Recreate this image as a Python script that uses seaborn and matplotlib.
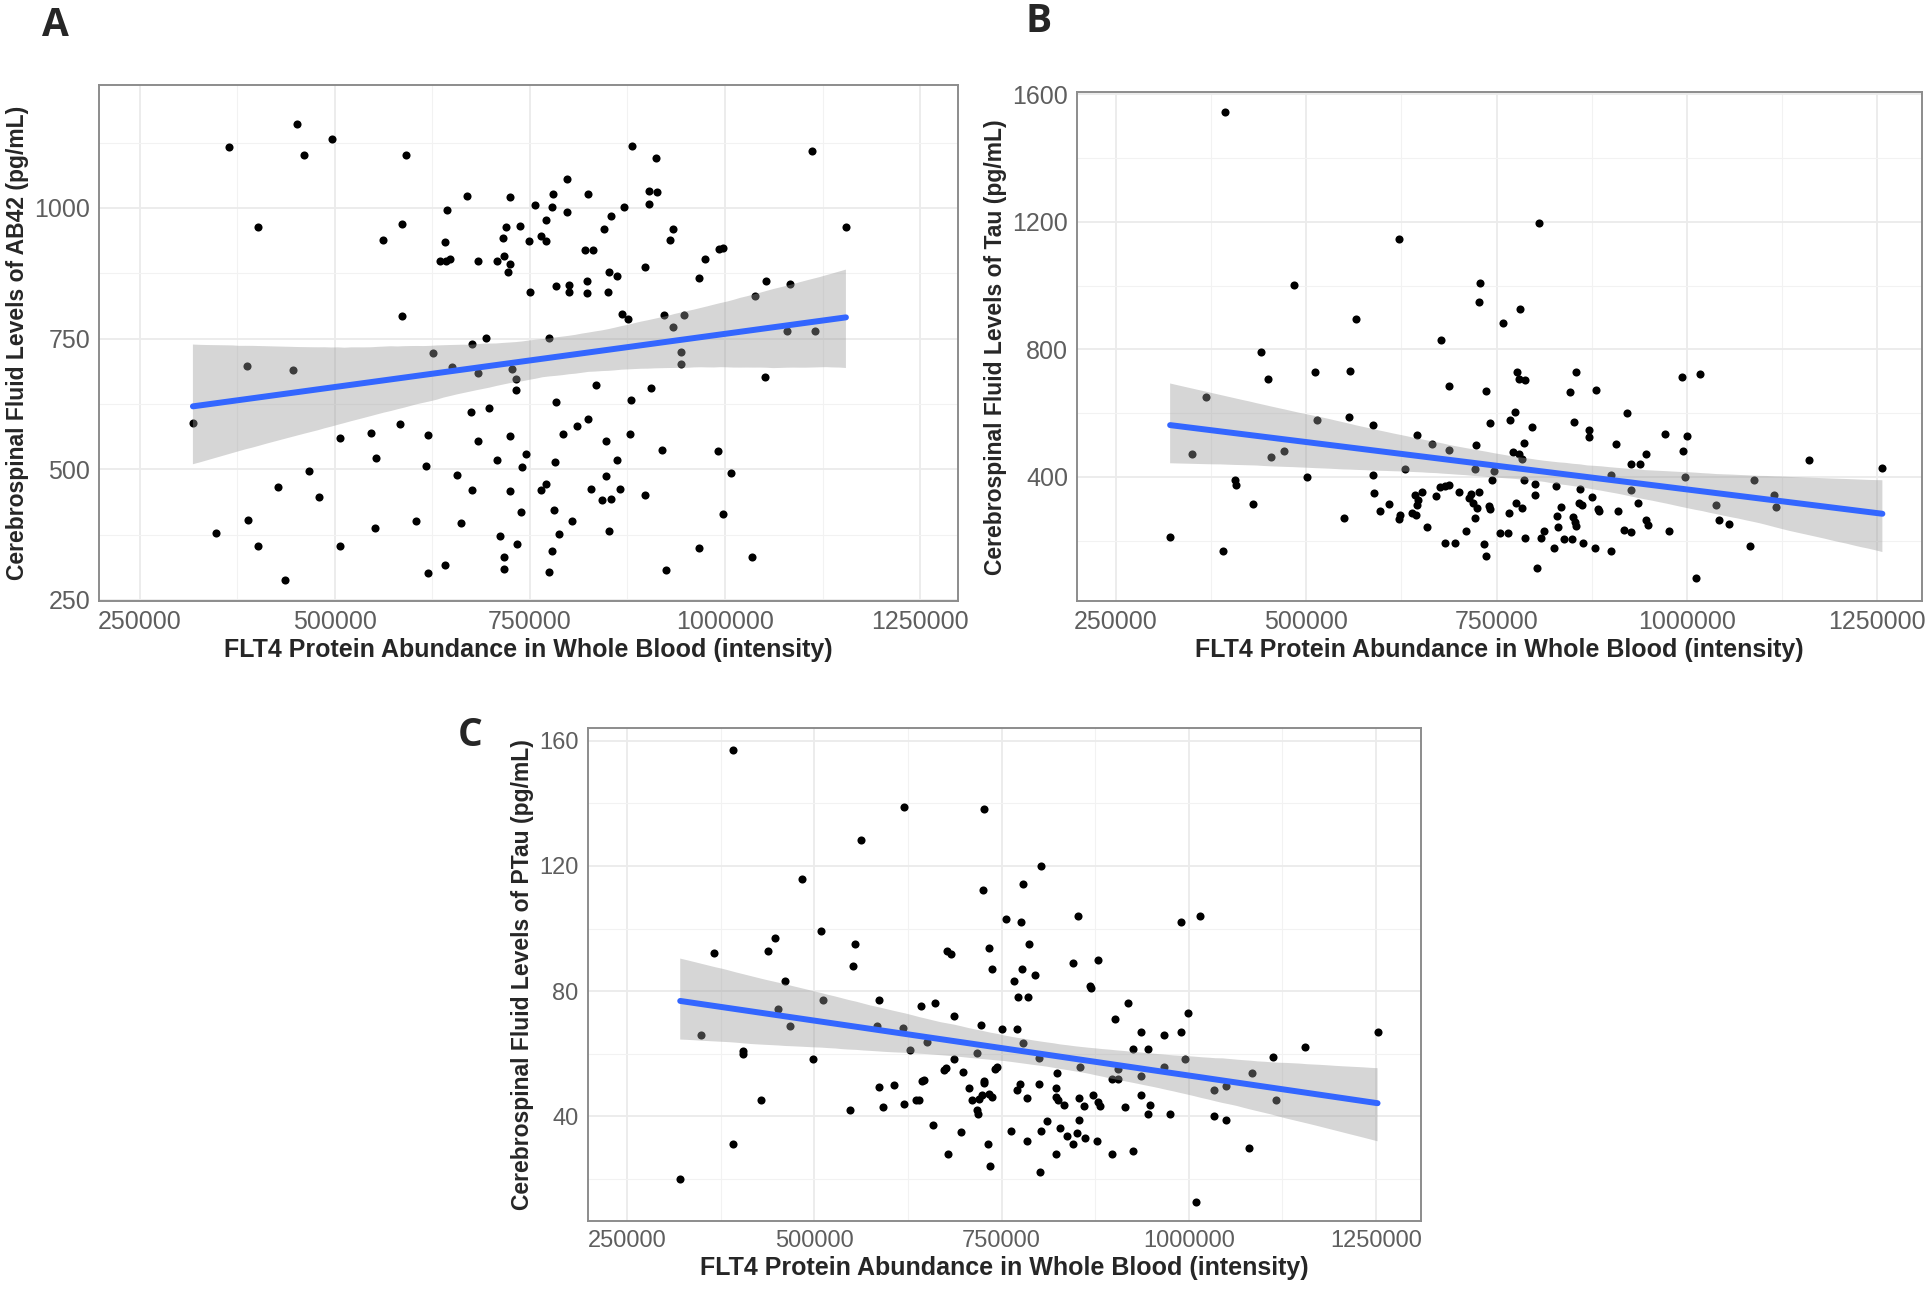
import matplotlib
matplotlib.use("Agg")
import matplotlib.pyplot as plt
import seaborn as sns
from matplotlib.collections import PolyCollection
from matplotlib.ticker import FixedLocator

sns.set_style("white")
plt.rcParams["font.family"] = ["Liberation Sans", "DejaVu Sans"]

# ---------------------------------------------------------------
# Data (FLT4 intensity vs CSF biomarker levels)
# ---------------------------------------------------------------
ab42_x = [452000, 364000, 496000, 460000, 591000, 881000, 911000, 1111000, 402000, 797000,
          669000, 725000, 780000, 825000, 903000, 913000, 644000, 756000, 778000, 798000,
          871000, 903000, 854000, 586000, 719000, 737000, 771000, 845000, 933000, 1155000,
          561000, 641000, 716000, 764000, 749000, 771000, 930000, 635000, 642000, 648000,
          684000, 708000, 717000, 725000, 722000, 821000, 831000, 897000, 974000, 992000,
          997000, 750000, 783000, 800000, 800000, 823000, 823000, 850000, 851000, 861000,
          967000, 1052000, 1083000, 1038000, 586000, 868000, 876000, 922000, 947000, 933000,
          694000, 775000, 676000, 387000, 446000, 626000, 1079000, 1115000, 943000, 944000,
          650000, 683000, 727000, 732000, 732000, 835000, 905000, 1051000, 784000, 880000,
          698000, 675000, 318000, 584000, 824000, 810000, 792000, 878000, 546000, 619000,
          507000, 684000, 725000, 847000, 553000, 708000, 745000, 782000, 740000, 861000,
          919000, 991000, 617000, 467000, 656000, 1008000, 848000, 427000, 480000, 676000,
          724000, 764000, 771000, 828000, 866000, 897000, 842000, 854000, 739000, 781000,
          389000, 604000, 662000, 804000, 998000, 348000, 551000, 787000, 851000, 402000,
          507000, 711000, 733000, 967000, 778000, 717000, 1034000, 641000, 717000, 619000,
          775000, 925000, 436000]
ab42_y = [1161, 1117, 1132, 1102, 1102, 1118, 1095, 1108, 964, 1055,
          1022, 1020, 1027, 1027, 1033, 1031, 996, 1005, 1002, 993,
          1002, 1007, 985, 970, 964, 966, 977, 960, 960, 964,
          938, 934, 942, 946, 936, 936, 938, 898, 898, 903,
          899, 898, 907, 893, 877, 919, 920, 887, 903, 922,
          923, 840, 851, 852, 839, 837, 861, 840, 877, 870,
          866, 861, 854, 831, 794, 797, 787, 795, 795, 773,
          752, 751, 739, 698, 690, 722, 765, 765, 725, 701,
          696, 684, 692, 673, 652, 662, 656, 677, 628, 633,
          617, 610, 588, 587, 596, 582, 567, 567, 569, 565,
          559, 554, 564, 555, 521, 518, 529, 514, 504, 518,
          537, 535, 507, 497, 490, 492, 488, 466, 447, 460,
          458, 460, 471, 462, 462, 451, 442, 443, 419, 422,
          403, 402, 398, 402, 415, 379, 388, 377, 382, 353,
          353, 372, 357, 349, 344, 332, 332, 316, 309, 302,
          303, 307, 289]

tau_x = [393000, 806000, 622000, 484000, 728000, 727000, 781000, 565000, 759000, 677000,
         440000, 512000, 557000, 449000, 777000, 779000, 787000, 855000, 994000, 1017000,
         687000, 736000, 881000, 846000, 368000, 774000, 921000, 768000, 741000, 514000,
         556000, 588000, 796000, 852000, 872000, 871000, 971000, 1000000, 645000, 665000,
         723000, 786000, 907000, 995000, 350000, 471000, 454000, 772000, 779000, 783000,
         946000, 927000, 938000, 1160000, 1257000, 687000, 721000, 630000, 747000, 501000,
         588000, 744000, 786000, 901000, 998000, 1088000, 406000, 408000, 682000, 688000,
         675000, 800000, 828000, 801000, 589000, 652000, 727000, 701000, 860000, 875000,
         1115000, 1117000, 430000, 608000, 643000, 647000, 645000, 716000, 714000, 719000,
         724000, 740000, 776000, 858000, 862000, 883000, 909000, 936000, 1038000, 926000,
         835000, 784000, 670000, 742000, 597000, 623000, 639000, 644000, 722000, 766000,
         829000, 884000, 550000, 622000, 850000, 853000, 947000, 949000, 1042000, 1056000,
         659000, 710000, 754000, 765000, 812000, 831000, 854000, 917000, 927000, 977000,
         321000, 682000, 696000, 734000, 787000, 809000, 826000, 838000, 849000, 864000,
         879000, 901000, 1083000, 390000, 736000, 803000, 1012000]
tau_y = [1544, 1196, 1147, 1003, 1007, 948, 926, 895, 882, 829,
         792, 729, 731, 707, 730, 708, 703, 729, 712, 722,
         684, 670, 673, 666, 652, 605, 601, 579, 570, 578,
         589, 562, 557, 571, 548, 525, 534, 527, 533, 504,
         500, 508, 504, 482, 473, 482, 462, 477, 472, 455,
         472, 441, 440, 452, 427, 484, 425, 425, 418, 400,
         405, 390, 392, 407, 399, 392, 389, 374, 372, 374,
         370, 377, 371, 345, 349, 352, 353, 353, 363, 337,
         342, 307, 315, 315, 345, 329, 312, 347, 333, 318,
         303, 309, 319, 318, 312, 301, 294, 319, 312, 359,
         305, 304, 341, 301, 294, 282, 286, 281, 270, 288,
         278, 293, 270, 268, 274, 258, 266, 249, 264, 253,
         244, 232, 225, 225, 230, 242, 247, 233, 226, 230,
         211, 192, 194, 189, 208, 208, 178, 205, 205, 192,
         178, 167, 184, 167, 153, 115, 84]

ptau_x = [392000, 620000, 726000, 562000, 803000, 483000, 778000, 725000, 852000, 1015000,
          756000, 776000, 990000, 509000, 447000, 554000, 733000, 787000, 366000, 438000,
          677000, 682000, 845000, 879000, 552000, 737000, 777000, 794000, 461000, 767000,
          868000, 869000, 772000, 785000, 511000, 586000, 661000, 643000, 452000, 999000,
          919000, 686000, 902000, 468000, 584000, 619000, 722000, 751000, 771000, 936000,
          990000, 967000, 1252000, 349000, 779000, 1155000, 925000, 945000, 405000, 405000,
          628000, 651000, 717000, 800000, 1112000, 498000, 995000, 687000, 855000, 906000,
          744000, 741000, 967000, 1085000, 676000, 699000, 673000, 824000, 936000, 898000,
          905000, 647000, 644000, 726000, 586000, 606000, 727000, 707000, 774000, 800000,
          823000, 1034000, 1049000, 724000, 733000, 737000, 771000, 823000, 872000, 879000,
          936000, 915000, 948000, 429000, 592000, 620000, 636000, 640000, 711000, 720000,
          826000, 833000, 881000, 1116000, 547000, 717000, 719000, 784000, 853000, 860000,
          946000, 975000, 811000, 853000, 1034000, 1049000, 658000, 762000, 802000, 696000,
          828000, 851000, 838000, 846000, 862000, 877000, 784000, 732000, 392000, 1081000,
          679000, 897000, 823000, 925000, 734000, 801000, 321000, 1009000]
ptau_y = [157.0, 139.0, 138.2, 128.2, 120.1, 115.8, 114.1, 112.2, 103.9, 103.9,
          103.2, 102.2, 102.2, 99.2, 97.0, 95.1, 93.9, 95.0, 92.1, 93.0,
          92.7, 91.9, 89.1, 90.1, 88.2, 87.2, 87.1, 85.1, 83.1, 83.1,
          81.7, 80.9, 78.0, 78.0, 77.3, 77.3, 76.3, 75.2, 74.2, 73.1,
          76.3, 72.1, 71.2, 69.0, 68.8, 68.3, 69.1, 67.9, 67.9, 66.9,
          66.9, 66.0, 66.9, 66.0, 63.3, 62.3, 61.5, 61.5, 61.0, 60.0,
          61.2, 63.9, 60.3, 58.8, 59.0, 58.2, 58.2, 58.2, 55.9, 55.2,
          55.9, 55.0, 55.9, 53.9, 55.4, 54.2, 54.8, 53.9, 53.0, 52.0,
          52.0, 51.7, 51.3, 51.3, 49.3, 49.9, 50.6, 49.1, 50.3, 50.3,
          49.1, 48.4, 49.8, 46.9, 47.2, 46.3, 48.4, 46.3, 46.9, 44.7,
          46.9, 42.9, 43.5, 45.1, 43.0, 44.0, 45.1, 45.1, 45.3, 45.7,
          45.1, 43.5, 43.3, 45.1, 42.1, 42.1, 40.9, 45.8, 45.9, 43.3,
          40.9, 40.9, 38.4, 39.0, 40.0, 38.9, 37.2, 35.4, 35.2, 35.0,
          36.2, 34.8, 33.6, 31.1, 33.0, 32.1, 32.0, 31.1, 31.1, 29.9,
          28.1, 28.0, 28.1, 28.9, 24.1, 22.2, 20.0, 12.7]

x_ticks = [250000, 500000, 750000, 1000000, 1250000]
ab42_ticks = [250, 500, 750, 1000]
tau_ticks = [400, 800, 1200, 1600]
ptau_ticks = [40, 80, 120, 160]

x_label = "FLT4 Protein Abundance in Whole Blood (intensity)"
ab42_label = "Cerebrospinal Fluid Levels of AB42 (pg/mL)"
tau_label = "Cerebrospinal Fluid Levels of Tau (pg/mL)"
ptau_label = "Cerebrospinal Fluid Levels of PTau (pg/mL)"


def minor_between(ticks, lo, hi):
    step = ticks[1] - ticks[0]
    vals = [ticks[0] - step / 2] + [t + step / 2 for t in ticks]
    return [v for v in vals if lo < v < hi]


def draw_panel(ax, x, y, yticks, ylabel, xlim, ylim, tick_size=18):
    sns.regplot(x=x, y=y, ax=ax, ci=95, n_boot=2000, seed=3, truncate=True,
                scatter_kws={"color": "black", "s": 34, "linewidths": 0, "alpha": 1},
                line_kws={"color": "#3366FF", "lw": 4.3})
    # grey confidence band like ggplot's geom_smooth
    for c in ax.collections:
        if isinstance(c, PolyCollection):
            c.set_facecolor("#999999")
            c.set_edgecolor("none")
            c.set_alpha(0.4)

    ax.set_xlim(*xlim)
    ax.set_ylim(*ylim)
    ax.xaxis.set_major_locator(FixedLocator(x_ticks))
    ax.yaxis.set_major_locator(FixedLocator(yticks))
    ax.xaxis.set_minor_locator(FixedLocator(minor_between(x_ticks, *xlim)))
    ax.yaxis.set_minor_locator(FixedLocator(minor_between(yticks, *ylim)))
    ax.set_xticklabels([str(t) for t in x_ticks])
    ax.set_yticklabels([str(t) for t in yticks])

    ax.grid(which="major", color="#EBEBEB", lw=1.3)
    ax.grid(which="minor", color="#F2F2F2", lw=0.8)
    ax.set_axisbelow(True)
    for s in ax.spines.values():
        s.set_color("#8C8C8C")
        s.set_linewidth(1.4)
    ax.tick_params(which="major", length=3.5, width=1.0, color="#8C8C8C",
                   labelsize=tick_size, labelcolor="#5E5E5E", pad=3)
    ax.tick_params(which="minor", length=0)

    ax.set_xlabel(x_label, fontsize=18, fontweight="bold", labelpad=3)
    ax.set_ylabel(ylabel, fontsize=16.5, fontweight="bold", labelpad=4)


fig = plt.figure(figsize=(19.32, 12.92), dpi=100)
ax_a = fig.add_axes([0.0514, 0.5348, 0.4446, 0.3994])
ax_b = fig.add_axes([0.5576, 0.5348, 0.4372, 0.3937])
ax_c = fig.add_axes([0.3042, 0.0550, 0.4312, 0.3818])

draw_panel(ax_a, ab42_x, ab42_y, ab42_ticks, ab42_label, (198000, 1299000), (248, 1235))
draw_panel(ax_b, tau_x, tau_y, tau_ticks, tau_label, (199000, 1309000), (11, 1606))
draw_panel(ax_c, ptau_x, ptau_y, ptau_ticks, ptau_label, (197500, 1309700), (6.6, 164.2),
           tick_size=17)

letter_font = dict(fontsize=28, fontweight="bold", family=["Open Sans", "DejaVu Sans"],
                   ha="center", va="center")
fig.text(55 / 1932, 1 - 25 / 1292, "A", **letter_font)
fig.text(1039 / 1932, 1 - 22 / 1292, "B", **letter_font)
fig.text(470 / 1932, 1 - 736 / 1292, "C", **letter_font)

fig.savefig("out.png", dpi=100)
